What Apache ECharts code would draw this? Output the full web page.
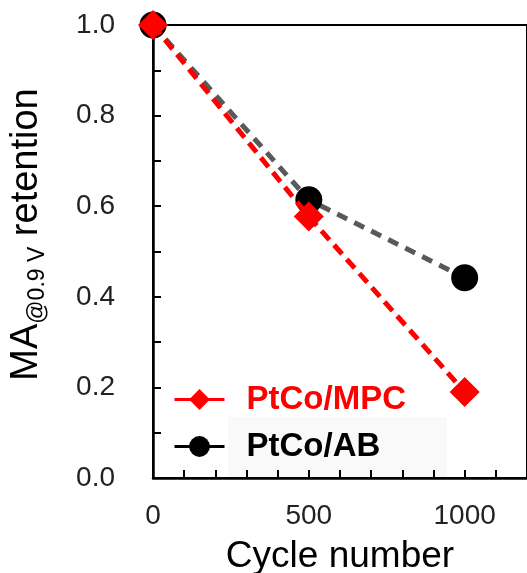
<!DOCTYPE html>
<html>
<head>
<meta charset="utf-8">
<script src="https://cdn.jsdelivr.net/npm/echarts@6/dist/echarts.min.js"></script>
<style>html,body{margin:0;padding:0;background:#fff;}#c{width:527px;height:573px;}</style>
</head>
<body>
<div id="c"></div>
<script>
const cycles = [0, 500, 1000];
const mpcValues = [1.0, 0.577, 0.19];
const abValues = [1.0, 0.614, 0.442];
const seriesNames = ['PtCo/MPC', 'PtCo/AB'];
const xLabelsShown = [0, 500, 1000];

const chart = echarts.init(document.getElementById('c'));
const font = 'Liberation Sans, Arial, sans-serif';
chart.setOption({
  animation: false,
  graphic: [{
    type: 'rect', silent: true, z: -1,
    shape: { x: 228, y: 417, width: 219, height: 61 },
    style: { fill: '#f9f9f9' }
  }],
  grid: { left: 153, top: 25, right: 0, bottom: 95, show: true, borderColor: '#000', borderWidth: 2, outerBoundsMode: 'none', containLabel: false },
  legend: {
    orient: 'vertical', left: 168, top: 378, itemWidth: 50, itemHeight: 26, itemGap: 14,
    lineStyle: { type: 'solid', width: 3 },
    textStyle: { fontFamily: font, fontSize: 33, fontWeight: 'bold', padding: [0, 0, 0, 17] },
    data: [
      { name: seriesNames[0], textStyle: { color: '#ff0000' }, lineStyle: { color: '#ff0000', type: 'solid', width: 3 } },
      { name: seriesNames[1], textStyle: { color: '#000000' }, lineStyle: { color: '#000000', type: 'solid', width: 3 } }
    ]
  },
  xAxis: {
    type: 'value', min: 0, max: 1200, interval: 100,
    name: 'Cycle number', nameLocation: 'middle', nameGap: 60,
    nameTextStyle: { fontFamily: font, fontSize: 37, color: '#000' },
    axisLine: { lineStyle: { color: '#000', width: 2.5 } },
    axisTick: { inside: true, length: 8, lineStyle: { color: '#000', width: 2 } },
    axisLabel: {
      fontFamily: font, fontSize: 28, color: '#222', margin: 24,
      formatter: v => xLabelsShown.indexOf(v) >= 0 ? String(v) : ''
    },
    splitLine: { show: false }
  },
  yAxis: {
    type: 'value', min: 0, max: 1.0, interval: 0.1,
    name: '{a|MA}{s|@0.9 V}{a| retention}', nameLocation: 'middle', nameGap: 104, nameRotate: 90,
    nameTextStyle: {
      padding: [0, 0, 0, 34],
      rich: {
        a: { fontFamily: font, fontSize: 38, color: '#000', lineHeight: 44 },
        s: { fontFamily: font, fontSize: 23, color: '#000', lineHeight: 44, verticalAlign: 'bottom' }
      }
    },
    axisLine: { lineStyle: { color: '#000', width: 2.5 } },
    axisTick: { inside: true, length: 8, lineStyle: { color: '#000', width: 2 } },
    axisLabel: {
      fontFamily: font, fontSize: 28, color: '#222', margin: 38,
      formatter: v => (Math.round(v * 10) % 2 === 0) ? v.toFixed(1) : ''
    },
    splitLine: { show: false }
  },
  series: [
    {
      name: seriesNames[1], type: 'line',
      data: cycles.map((c, i) => [c, abValues[i]]),
      symbol: 'circle', symbolSize: 27,
      itemStyle: { color: '#000' },
      lineStyle: { color: '#595959', width: 5, type: [11, 8] },
      z: 2
    },
    {
      name: seriesNames[0], type: 'line',
      data: cycles.map((c, i) => [c, mpcValues[i]]),
      symbol: 'diamond', symbolSize: 30,
      itemStyle: { color: '#ff0000' },
      lineStyle: { color: '#ff0000', width: 5, type: [12, 7] },
      z: 3
    }
  ]
});
</script>
</body>
</html>
